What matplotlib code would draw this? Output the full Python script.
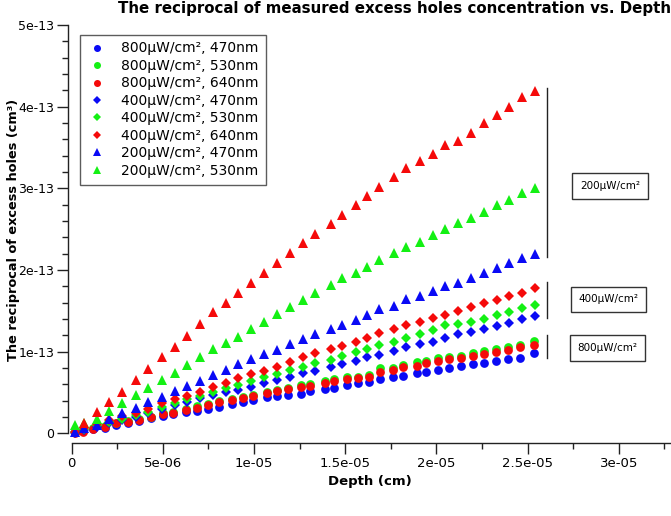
import matplotlib
matplotlib.use("Agg")
import matplotlib.pyplot as plt
import numpy as np

# ---------------- data (depth in 1e-6 cm, values in 1e-13 cm^3) ----------------
depth_tri = [0.18, 0.674, 1.404, 2.061, 2.774, 3.525, 4.200, 4.934, 5.664, 6.305, 7.034,
             7.730, 8.460, 9.134, 9.830, 10.543, 11.272, 11.968, 12.697, 13.339, 14.200,
             14.803, 15.570, 16.173, 16.864, 17.670, 18.311, 19.095, 19.792, 20.466,
             21.179, 21.891, 22.604, 23.300, 23.991, 24.704, 25.417]
depth_circ = [0.18, 0.64, 1.18, 1.83, 2.43, 3.10, 3.71, 4.33, 4.99, 5.57, 6.27, 6.85, 7.49,
              8.09, 8.77, 9.41, 9.96, 10.69, 11.27, 11.87, 12.57, 13.06, 13.88, 14.38, 15.08,
              15.71, 16.32, 16.90, 17.63, 18.18, 18.91, 19.41, 20.10, 20.70, 21.34, 22.02,
              22.62, 23.26, 23.94, 24.58, 25.36]

p800_470 = [0.02, 0.03, 0.05, 0.07, 0.102, 0.122, 0.151, 0.184, 0.212, 0.236, 0.257, 0.277,
            0.298, 0.326, 0.36, 0.38, 0.408, 0.441, 0.453, 0.469, 0.481, 0.522, 0.539, 0.558,
            0.591, 0.612, 0.624, 0.663, 0.693, 0.702, 0.735, 0.754, 0.775, 0.796, 0.828, 0.849,
            0.864, 0.885, 0.910, 0.918, 0.980]
p800_530 = [0.01, 0.03, 0.06, 0.09, 0.13, 0.15, 0.175, 0.205, 0.245, 0.265, 0.30, 0.33, 0.36,
            0.39, 0.42, 0.44, 0.47, 0.51, 0.53, 0.555, 0.59, 0.60, 0.64, 0.66, 0.685, 0.695,
            0.71, 0.796, 0.80, 0.84, 0.877, 0.885, 0.918, 0.938, 0.950, 0.987, 1.012, 1.028,
            1.061, 1.081, 1.134]
p800_640 = [0.0, 0.02, 0.053, 0.081, 0.122, 0.142, 0.163, 0.196, 0.236, 0.253, 0.285, 0.314,
            0.347, 0.380, 0.408, 0.428, 0.457, 0.497, 0.518, 0.539, 0.571, 0.583, 0.620, 0.640,
            0.665, 0.673, 0.686, 0.75, 0.775, 0.808, 0.824, 0.864, 0.885, 0.910, 0.926, 0.950,
            0.971, 0.999, 1.020, 1.053, 1.081]

p400_470 = [0.0, 0.04, 0.08, 0.12, 0.16, 0.204, 0.245, 0.294, 0.347, 0.384, 0.429, 0.469,
            0.510, 0.530, 0.571, 0.612, 0.653, 0.693, 0.735, 0.767, 0.816, 0.845, 0.889, 0.931,
            0.959, 1.008, 1.053, 1.090, 1.122, 1.163, 1.212, 1.237, 1.273, 1.314, 1.347, 1.396,
            1.436]
p400_530 = [0.01, 0.05, 0.10, 0.14, 0.18, 0.224, 0.265, 0.326, 0.375, 0.416, 0.457, 0.502,
            0.551, 0.591, 0.640, 0.686, 0.726, 0.775, 0.816, 0.857, 0.898, 0.946, 0.992, 1.032,
            1.081, 1.122, 1.163, 1.212, 1.265, 1.326, 1.335, 1.367, 1.400, 1.449, 1.489, 1.531,
            1.571]
p400_640 = [0.01, 0.06, 0.11, 0.16, 0.21, 0.253, 0.294, 0.367, 0.416, 0.461, 0.510, 0.563,
            0.620, 0.673, 0.726, 0.767, 0.816, 0.869, 0.938, 0.980, 1.028, 1.073, 1.122, 1.163,
            1.224, 1.273, 1.326, 1.367, 1.408, 1.449, 1.498, 1.543, 1.592, 1.632, 1.681, 1.722,
            1.783]

p200_470 = [0.02, 0.06, 0.102, 0.175, 0.245, 0.314, 0.380, 0.448, 0.518, 0.583, 0.644, 0.714,
            0.775, 0.845, 0.906, 0.967, 1.020, 1.093, 1.151, 1.216, 1.277, 1.326, 1.387, 1.45,
            1.518, 1.563, 1.641, 1.681, 1.746, 1.804, 1.844, 1.898, 1.966, 2.020, 2.089, 2.143,
            2.195]
p200_530 = [0.102, 0.13, 0.171, 0.277, 0.367, 0.469, 0.558, 0.655, 0.742, 0.836, 0.930, 1.028,
            1.102, 1.183, 1.277, 1.359, 1.457, 1.543, 1.632, 1.72, 1.81, 1.898, 1.959, 2.040,
            2.122, 2.211, 2.285, 2.346, 2.428, 2.498, 2.579, 2.633, 2.710, 2.792, 2.857, 2.939,
            3.007]
p200_640 = [0.122, 0.265, 0.387, 0.509, 0.652, 0.786, 0.931, 1.060, 1.195, 1.335, 1.482, 1.599,
            1.722, 1.844, 1.963, 2.082, 2.211, 2.326, 2.440, 2.563, 2.673, 2.792, 2.909, 3.019,
            3.138, 3.245, 3.338, 3.420, 3.526, 3.579, 3.673, 3.796, 3.901, 3.992, 4.114, 4.191]

labels = ["800\u00b5W/cm\u00b2, 470nm", "800\u00b5W/cm\u00b2, 530nm", "800\u00b5W/cm\u00b2, 640nm",
          "400\u00b5W/cm\u00b2, 470nm", "400\u00b5W/cm\u00b2, 530nm", "400\u00b5W/cm\u00b2, 640nm",
          "200\u00b5W/cm\u00b2, 470nm", "200\u00b5W/cm\u00b2, 530nm"]
group_labels = ["200\u00b5W/cm\u00b2", "400\u00b5W/cm\u00b2", "800\u00b5W/cm\u00b2"]

xtick_vals = [0, 5e-6, 1e-5, 1.5e-5, 2e-5, 2.5e-5, 3e-5]
xtick_labels = ["0", "5e-06", "1e-05", "1.5e-05", "2e-05", "2.5e-05", "3e-05"]
ytick_vals = [0, 1e-13, 2e-13, 3e-13, 4e-13, 5e-13]
ytick_labels = ["0", "1e-13", "2e-13", "3e-13", "4e-13", "5e-13"]

BLUE, GREEN, RED = "#0a0af5", "#14f014", "#f50a0a"

# ---------------- figure ----------------
W, H = 671, 516
fig = plt.figure(figsize=(W / 100, H / 100), dpi=100)
plt.rcParams["font.family"] = ["DejaVu Sans"]

ax_l, ax_r = 68.05, 710.1
ax_b, ax_t = 443.0, 25.0
ax = fig.add_axes([ax_l / W, (H - ax_b) / H, (ax_r - ax_l) / W, (ax_b - ax_t) / H])

dt = np.array(depth_tri) * 1e-6
dc = np.array(depth_circ) * 1e-6
s = 1e-13

series = [
    (dc, p800_470, "o", BLUE, 6.3, labels[0]),
    (dc, p800_530, "o", GREEN, 6.3, labels[1]),
    (dc, p800_640, "o", RED, 6.3, labels[2]),
    (dt, p400_470, "D", BLUE, 4.8, labels[3]),
    (dt, p400_530, "D", GREEN, 4.8, labels[4]),
    (dt, p400_640, "D", RED, 4.8, labels[5]),
    (dt, p200_470, "^", BLUE, 7.0, labels[6]),
    (dt, p200_530, "^", GREEN, 7.0, labels[7]),
    (dt[1:], p200_640, "^", RED, 7.0, "_nolegend_"),
]
for x, y, m, c, ms, lab in series:
    ax.plot(x, np.array(y) * s, linestyle="none", marker=m, color=c, markersize=ms,
            markeredgewidth=0, label=lab)

ax.set_xlim(-0.2e-6, 3.5e-5)
ax.set_ylim(-0.119e-13, 5.0e-13)
ax.spines["top"].set_visible(False)
ax.spines["right"].set_visible(False)
ax.spines["left"].set_bounds(0, 5e-13)
ax.spines["bottom"].set_bounds(0, 3.5e-5)
for sp in ("left", "bottom"):
    ax.spines[sp].set_linewidth(1.0)
    ax.spines[sp].set_color("#222222")

ax.set_xticks(xtick_vals)
ax.set_xticklabels(xtick_labels)
ax.set_xticks(np.arange(2.5e-6, 3.5e-5, 5e-6), minor=True)
ax.set_yticks(ytick_vals)
ax.set_yticklabels(ytick_labels)
ax.set_yticks([v * 1e-14 for v in range(2, 50, 2) if v % 10 != 0], minor=True)
ax.tick_params(axis="both", which="major", direction="out", length=8, width=1,
               labelsize=9.5, pad=2, color="#222222")
ax.tick_params(axis="y", which="major", labelsize=9)
ax.tick_params(axis="both", which="minor", direction="out", length=4.5, width=1,
               color="#222222")

leg = ax.legend(loc="upper left", bbox_to_anchor=(79.5 / W, 1 - 34.5 / H),
                bbox_transform=fig.transFigure, fontsize=10, frameon=True, fancybox=False,
                edgecolor="#333333", handlelength=1.5, handletextpad=1.0, borderpad=0.5,
                labelspacing=0.25, markerscale=0.8, borderaxespad=0)
leg.get_frame().set_linewidth(1.0)

fig.text(118 / W, 1 - 12.5 / H,
         "The reciprocal of measured excess holes concentration vs. Depth",
         fontsize=10.8, fontweight="bold", ha="left", va="baseline")
fig.text(14 / W, 1 - 230 / H, "The reciprocal of excess holes (cm\u00b3)",
         fontsize=9.3, fontweight="bold", rotation=90, ha="center", va="center")
fig.text(370 / W, 1 - 481 / H, "Depth (cm)", fontsize=9.5, fontweight="bold",
         ha="center", va="center")

# group brackets and labels
brackets = [(88, 257), (282, 318), (335, 358)]
boxes = [(610, 186), (608.5, 299.5), (607.5, 348)]
for (y0, y1), (bx, by), lab in zip(brackets, boxes, group_labels):
    fig.add_artist(plt.Line2D([547.3 / W, 547.3 / W], [1 - y0 / H, 1 - y1 / H],
                              color="#222222", linewidth=1.0))
    fig.text(bx / W, 1 - by / H, lab, fontsize=7.5, ha="center", va="center",
             bbox=dict(boxstyle="square,pad=0.75", facecolor="white",
                       edgecolor="#333333", linewidth=1.0))

fig.savefig("out.png", dpi=100)
